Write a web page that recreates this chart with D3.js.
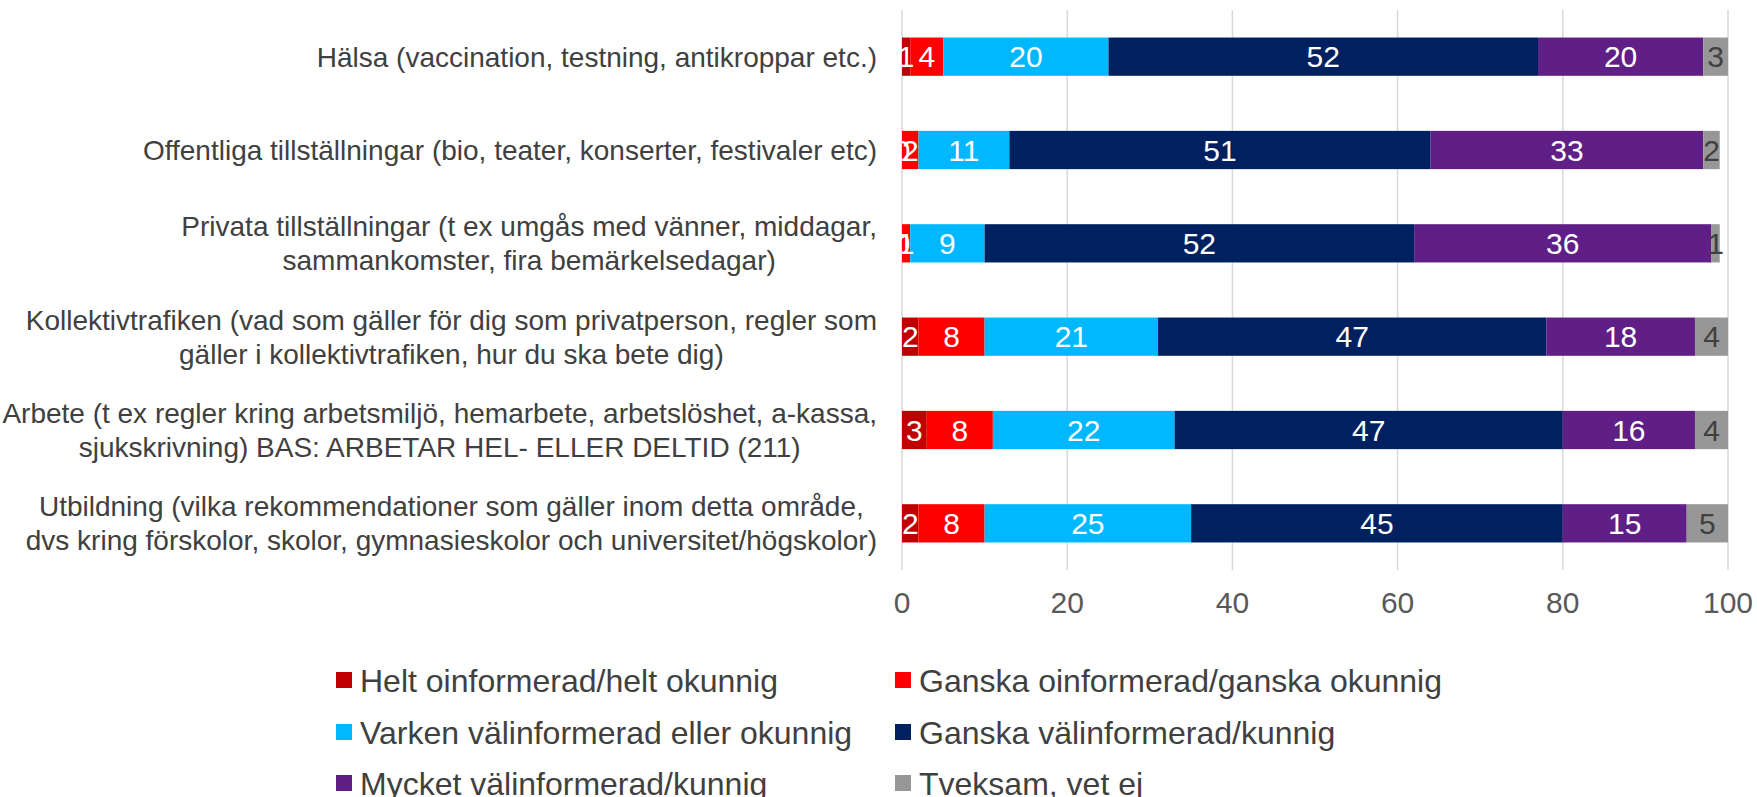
<!DOCTYPE html>
<html>
<head>
<meta charset="utf-8">
<script src="https://cdn.jsdelivr.net/npm/d3@7"></script>
<style>
  body { margin:0; background:#fff; }
  text { font-family: "Liberation Sans", Arial, sans-serif; }
</style>
</head>
<body>
<div id="chart"></div>
<script>
// categories, each label split into its lines
var categories = [
  "Hälsa (vaccination, testning, antikroppar etc.)",
  "Offentliga tillställningar (bio, teater, konserter, festivaler etc)",
  "Privata tillställningar (t ex umgås med vänner, middagar,\nsammankomster, fira bemärkelsedagar)",
  "Kollektivtrafiken (vad som gäller för dig som privatperson, regler som\ngäller i kollektivtrafiken, hur du ska bete dig)",
  "Arbete (t ex regler kring arbetsmiljö, hemarbete, arbetslöshet, a-kassa,\nsjukskrivning) BAS: ARBETAR HEL- ELLER DELTID (211)",
  "Utbildning (vilka rekommendationer som gäller inom detta område,\ndvs kring förskolor, skolor, gymnasieskolor och universitet/högskolor)"
]

var series = [
  "Helt oinformerad/helt okunnig",
  "Ganska oinformerad/ganska okunnig",
  "Varken välinformerad eller okunnig",
  "Ganska välinformerad/kunnig",
  "Mycket välinformerad/kunnig",
  "Tveksam, vet ej"
]
var colors = ["#C00000", "#FF0000", "#00B8FF", "#002060", "#5F1F87", "#979797"]

// values per category, in series order
var helt_oinf   = [1, 0, 0, 2, 3, 2]
var ganska_oinf = [4, 2, 1, 8, 8, 8]
var varken      = [20, 11, 9, 21, 22, 25]
var ganska_val  = [52, 51, 52, 47, 47, 45]
var mycket_val  = [20, 33, 36, 18, 16, 15]
var tveksam     = [3, 2, 1, 4, 4, 5]

var xTicks = [0, 20, 40, 60, 80, 100]

var values = [helt_oinf, ganska_oinf, varken, ganska_val, mycket_val, tveksam]

var W = 1757, H = 797
var svg = d3.select("#chart").append("svg")
    .attr("width", W).attr("height", H)

var x = d3.scaleLinear().domain([0, 100]).range([902, 1728])
var y = d3.scaleBand().domain(d3.range(categories.length))
    .range([10, 570]).paddingInner(0.59).paddingOuter(0.295)

// gridlines
svg.append("g").selectAll("line")
  .data(xTicks)
  .join("line")
    .attr("x1", d => x(d)).attr("x2", d => x(d))
    .attr("y1", 10).attr("y2", 570)
    .attr("stroke", "#d9d9d9").attr("stroke-width", 1.5)

// stack the data
var rows = categories.map(function(c, i){
  var r = {cat: i}
  series.forEach(function(s, j){ r[s] = values[j][i] })
  return r
})
var stacked = d3.stack().keys(series)(rows)

var layers = svg.append("g").selectAll("g")
  .data(stacked)
  .join("g")
    .attr("fill", (d, i) => colors[i])

layers.selectAll("rect")
  .data(d => d)
  .join("rect")
    .attr("x", d => x(d[0]))
    .attr("y", d => y(d.data.cat))
    .attr("width", d => x(d[1]) - x(d[0]))
    .attr("height", y.bandwidth())

// data labels
var lab = svg.append("g")
stacked.forEach(function(layer, j){
  lab.selectAll(".l" + j)
    .data(layer)
    .join("text")
      .attr("class", "l" + j)
      .attr("x", d => (x(d[0]) + x(d[1])) / 2)
      .attr("y", d => y(d.data.cat) + y.bandwidth() / 2)
      .attr("dy", "0.36em")
      .attr("text-anchor", "middle")
      .style("font-size", "30px")
      .style("fill", j == 5 ? "#404040" : "#ffffff")
      .text(d => d[1] - d[0])
})

// x axis tick labels
svg.append("g").selectAll("text")
  .data(xTicks)
  .join("text")
    .attr("x", d => x(d))
    .attr("y", 602)
    .attr("dy", "0.36em")
    .attr("text-anchor", "middle")
    .style("font-size", "30px")
    .style("fill", "#595959")
    .text(d => d)

// category labels: lines centred in a block that is right aligned
var lineH = 34
var catG = svg.append("g")
categories.forEach(function(c, i){
  var lines = c.split("\n")
  var g = catG.append("g")
  var cy = y(i) + y.bandwidth() / 2
  var texts = lines.map(function(l, k){
    return g.append("text")
      .attr("y", cy + (k - (lines.length - 1) / 2) * lineH)
      .attr("dy", "0.36em")
      .attr("text-anchor", "middle")
      .style("font-size", "28px")
      .style("fill", "#404040")
      .text(l)
  })
  var maxW = d3.max(texts, t => t.node().getComputedTextLength())
  texts.forEach(t => t.attr("x", 877 - maxW / 2))
})

// legend
var legX = [336, 895], legY = [680, 732, 783]
var leg = svg.append("g").selectAll("g")
  .data(series)
  .join("g")
    .attr("transform", (d, i) => "translate(" + legX[i % 2] + "," + legY[Math.floor(i / 2)] + ")")
leg.append("rect")
    .attr("x", 0).attr("y", -8).attr("width", 16).attr("height", 16)
    .attr("fill", (d, i) => colors[i])
leg.append("text")
    .attr("x", 24).attr("dy", "0.36em")
    .style("font-size", "32px")
    .style("fill", "#404040")
    .text(d => d)
</script>
</body>
</html>
